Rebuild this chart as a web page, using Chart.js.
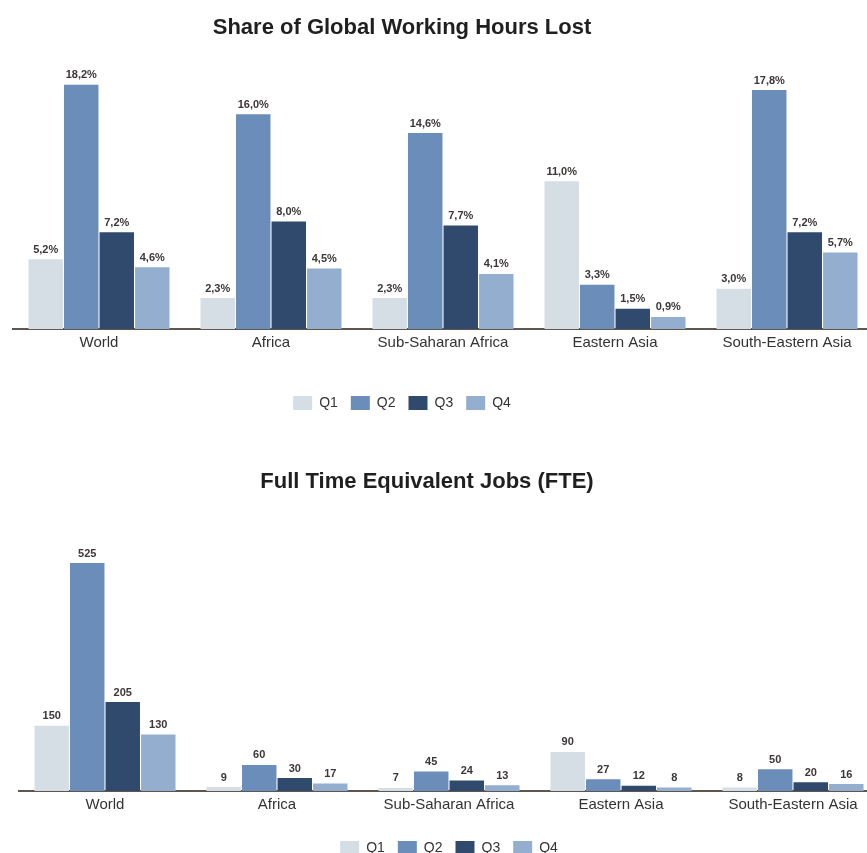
<!DOCTYPE html>
<html>
<head>
<meta charset="utf-8">
<script src="https://cdn.jsdelivr.net/npm/chart.js@4.4.1/dist/chart.umd.min.js"></script>
<style>
  html, body { margin: 0; padding: 0; background: #fff; overflow: hidden; width: 867px; height: 853px; }
  .box { position: absolute; }
</style>
</head>
<body>
<div class="box" style="left:-69px; top:0px; width:943px; height:440px;"><canvas id="hours"></canvas></div>
<div class="box" style="left:-25px; top:440px; width:905px; height:430px;"><canvas id="fte"></canvas></div>
<script>
const categories = ["World", "Africa", "Sub-Saharan Africa", "Eastern Asia", "South-Eastern Asia"];
const quarters = ["Q1", "Q2", "Q3", "Q4"];

// share of global working hours lost, %
const hoursQ1 = [5.2, 2.3, 2.3, 11.0, 3.0];
const hoursQ2 = [18.2, 16.0, 14.6, 3.3, 17.8];
const hoursQ3 = [7.2, 8.0, 7.7, 1.5, 7.2];
const hoursQ4 = [4.6, 4.5, 4.1, 0.9, 5.7];

// full time equivalent jobs, millions
const fteQ1 = [150, 9, 7, 90, 8];
const fteQ2 = [525, 60, 45, 27, 50];
const fteQ3 = [205, 30, 24, 12, 20];
const fteQ4 = [130, 17, 13, 8, 16];

const colors = ["#d6dee5", "#6b8dba", "#2f4a6d", "#94aed0"];

// numbers above each bar
const valueLabels = {
  id: "valueLabels",
  afterDatasetsDraw(chart, args, opts) {
    const ctx = chart.ctx;
    ctx.save();
    ctx.font = "bold 11px 'Liberation Sans Narrow', 'Liberation Sans', Arial, sans-serif";
    ctx.fillStyle = "#3d3636";
    ctx.textAlign = "center";
    ctx.textBaseline = "bottom";
    chart.data.datasets.forEach((ds, i) => {
      chart.getDatasetMeta(i).data.forEach((bar, j) => {
        ctx.fillText(opts.format(ds.data[j]), bar.x, bar.y - 4);
      });
    });
    ctx.restore();
  }
};

function makeChart(id, title, series, yMax, leftWidth, titleTop, legendFull, fmt, padBottom, axisExtra) {
  return new Chart(document.getElementById(id), {
    type: "bar",
    data: {
      labels: categories,
      datasets: series.map((data, i) => ({
        label: quarters[i],
        data,
        backgroundColor: colors[i],
        borderWidth: 0,
        categoryPercentage: 0.826,
        barPercentage: 0.97,
      })),
    },
    options: {
      responsive: true,
      maintainAspectRatio: false,
      animation: false,
      layout: { padding: { left: 0, right: 1, top: 0, bottom: padBottom } },
      scales: {
        x: {
          grid: { display: false, drawTicks: false },
          border: { display: true, color: "#5e5750", width: 2 },
          ticks: { color: "#333", padding: 5, font: { family: "'Liberation Sans', Arial, sans-serif", size: 15 } },
          afterFit(scale) { scale.height += axisExtra; },
        },
        y: {
          min: 0,
          max: yMax,
          grid: { display: false, drawTicks: false },
          border: { display: false },
          ticks: { display: false },
          afterFit(scale) { scale.width = leftWidth; },
        },
      },
      plugins: {
        title: {
          display: true,
          text: title,
          color: "#1f1f1f",
          font: { family: "'Liberation Sans', Arial, sans-serif", size: 22, weight: "bold" },
          padding: { top: titleTop, bottom: 9 },
        },
        legend: {
          position: "bottom",
          fullSize: legendFull,
          labels: {
            boxWidth: 19,
            boxHeight: 14,
            padding: 13,
            color: "#333",
            font: { family: "'Liberation Sans', Arial, sans-serif", size: 14 },
          },
        },
        tooltip: { enabled: false },
        valueLabels: { format: fmt },
      },
    },
    plugins: [valueLabels],
  });
}

makeChart("hours", "Share of Global Working Hours Lost", [hoursQ1, hoursQ2, hoursQ3, hoursQ4],
  20.75, 82, 15, true, v => v.toFixed(1).replace(".", ",") + "%", 20, 26);
makeChart("fte", "Full Time Equivalent Jobs (FTE)", [fteQ1, fteQ2, fteQ3, fteQ4],
  660, 44, 29, false, v => String(v), 5, 9);
</script>
</body>
</html>
